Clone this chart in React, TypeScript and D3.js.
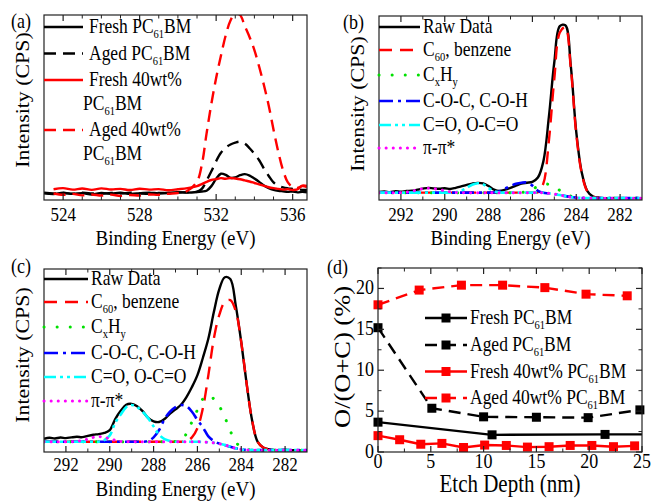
import React from "react";
import * as d3 from "d3";

const FONT = "'Liberation Serif', 'Times New Roman', 'DejaVu Serif', serif";
const SY = 1.15; // text looks a little taller than wide in the reference

// ---------- (a) O 1s ----------
const beA = [523, 523.5, 524, 524.5, 525, 525.5, 526, 526.5, 527, 527.5, 528, 528.5, 529, 529.5, 530, 530.5,
  531, 531.25, 531.5, 531.75, 532, 532.25, 532.5, 532.75, 533, 533.25, 533.5, 533.75, 534, 534.25, 534.5, 534.75,
  535, 535.25, 535.5, 535.75, 536, 536.25, 536.5, 536.75];
const freshPC_O = [3.6, 3.2, 3.9, 3.3, 3.7, 3.0, 3.8, 3.4, 3.9, 3.3, 3.6, 4.0, 3.5, 3.9, 4.2, 4.0,
  4.3, 4.6, 5.0, 7.5, 11.5, 14.2, 13.6, 12.0, 12.2, 13.4, 14.0, 13.2, 11.6, 9.8, 7.8, 6.4,
  5.5, 5.0, 4.7, 4.4, 4.6, 4.1, 4.4, 4.2];
const agedPC_O = [3.9, 3.5, 3.8, 3.4, 3.9, 3.6, 3.3, 3.8, 3.5, 3.9, 3.6, 3.4, 3.8, 3.7, 4.0, 4.2,
  4.5, 6.0, 10.5, 15.5, 21, 25.5, 28.3, 30, 31, 31.5, 30.5, 28, 25, 21.5, 17, 13,
  9.5, 7.8, 6.8, 6.3, 6.0, 5.7, 5.5, 5.4];
const fresh40_O = [null, 5.8, 6.4, 5.6, 6.2, 5.5, 6.3, 5.7, 6.0, 5.4, 6.1, 5.6, 5.9, 5.3, 5.8, 6.4,
  7.5, 8.6, 9.8, 10.8, 11.3, 11.8, 11.5, 11.9, 11.6, 11.2, 10.6, 10.0, 9.2, 8.4, 7.6, 6.9,
  6.4, 6.0, 5.6, 5.9, 5.4, 5.7, 7.8, 7.6];
const aged40_O = [null, 3.5, 2.8, 3.3, 2.5, 3.0, 2.4, 2.9, 2.2, 2.7, 2.4, 3.0, 2.8, 3.4, 3.8, 5.0,
  10, 19, 36, 52, 66, 78, 89, 97, 101, 100, 94, 88, 81, 72, 62, 51,
  38, 26, 16, 9.5, 7, 6.5, 7.5, 7];

// ---------- (b), (c) C 1s ----------
const beC = [293, 292.75, 292.5, 292.25, 292, 291.75, 291.5, 291.25, 291, 290.75, 290.5, 290.25, 290,
  289.75, 289.5, 289.25, 289, 288.75, 288.5, 288.25, 288, 287.75, 287.5, 287.25, 287, 286.75, 286.5,
  286.25, 286, 285.75, 285.5, 285.25, 285, 284.75, 284.5, 284.25, 284, 283.75, 283.5, 283.25, 283,
  282.75, 282.5, 282.25, 282, 281.75, 281.5, 281.25, 281];

const rawB = [4.3, 4.6, 4.2, 4.8, 4.5, 4.9, 5.0, 5.6, 6.2, 6.6, 6.3, 6.1, 6.4, 6.0, 6.6, 7.4, 8.2, 8.9, 9.3, 9.0,
  7.6, 5.6, 4.9, 5.6, 6.6, 7.8, 8.9, 9.4, 9.9, 12.2, 21, 45, 75, 94.5, 95, 73, 37, 15, 5, 2,
  1.2, 1.0, 0.9, 1.1, 0.8, 1.0, 0.9, 1.1, 0.9];
const c60B = [4, 4, 4, 4, 4, 4, 4, 4, 4, 4, 4, 4, 4, 4, 4, 4, 4, 4, 4, 4,
  4, 4, 4, 4, 4, 4, 4, 4, 4, 4.2, 9, 32, 66, 91, 94, 72, 36, 14.5, 4.8, 1.9,
  1.2, 1, 1, 1, 1, 1, 1, 1, 1];
const cxhyB = [4, 4, 4, 4, 4, 4, 4, 4, 4, 4, 4, 4, 4, 4, 4, 4, 4, 4, 4, 4,
  4, 4, 4, 4, 4, 4, 4.1, 4.6, 5.8, 7.5, 8.6, 8.5, 7.2, 5.2, 3.4, 2.1, 1.4, 1.1, 1, 1,
  1, 1, 1, 1, 1, 1, 1, 1, 1];
const cocB = [4, 4, 4, 4, 4, 4, 4, 4, 4, 4, 4, 4, 4, 4, 4, 4, 4, 4, 4, 4,
  4, 4.1, 4.8, 6.2, 7.6, 8.8, 9.4, 9.5, 7.8, 5.0, 3.9, 3.6, 3.2, 2.7, 2.1, 1.6, 1.3, 1.1, 1, 1,
  1, 1, 1, 1, 1, 1, 1, 1, 1];
const coB = [4, 4, 4, 4, 4, 4, 4, 4, 4, 4, 4, 4, 4, 4, 4.2, 5.0, 6.6, 8.3, 9.1, 8.6,
  6.5, 4.8, 4.1, 4, 4, 4, 4, 4, 4, 4, 3.9, 3.6, 3.2, 2.7, 2.1, 1.6, 1.3, 1.1, 1, 1,
  1, 1, 1, 1, 1, 1, 1, 1, 1];
const pipiB = [4, 4, 4, 4, 4, 4.3, 4.8, 5.5, 6.1, 6.4, 6.2, 5.6, 5.0, 4.4, 4.1, 4, 4, 4, 4, 4,
  4, 4, 4, 4, 4, 4, 4, 4, 4, 4, 3.9, 3.6, 3.2, 2.7, 2.1, 1.6, 1.3, 1.1, 1, 1,
  1, 1, 1, 1, 1, 1, 1, 1, 1];

const rawC = [7.2, 7.8, 7.4, 7.9, 7.6, 8.0, 8.3, 8.1, 8.8, 9.4, 9.8, 10.4, 12.0, 18.0, 22.5, 25.8, 26.3, 25.0, 22.3, 18.7,
  16.8, 16.4, 18.0, 21.0, 23.3, 25.8, 30.0, 35.5, 42.0, 51.5, 62.0, 76.5, 89.0, 95.5, 94.5, 80.0, 60.0, 37.0, 17.0, 5.5,
  2.5, 1.5, 1.1, 1.0, 1.2, 0.9, 1.0, 0.8, 1.0];
const c60C = [5.6, 5.6, 5.6, 5.6, 5.6, 5.6, 5.6, 5.6, 5.6, 5.6, 5.6, 5.6, 5.6, 5.6, 5.6, 5.6, 5.6, 5.6, 5.6, 5.6,
  5.6, 5.6, 5.6, 5.6, 5.6, 5.6, 5.8, 8, 13, 24, 42, 62, 75, 82, 83, 77, 60, 37, 17, 5.5,
  2.5, 1.5, 1.1, 1, 1, 1, 1, 1, 1];
const cxhyC = [5.6, 5.6, 5.6, 5.6, 5.6, 5.6, 5.6, 5.6, 5.6, 5.6, 5.6, 5.6, 5.6, 5.6, 5.6, 5.6, 5.6, 5.6, 5.6, 5.6,
  5.6, 5.6, 5.6, 5.6, 5.8, 6.5, 10, 16.5, 23, 29, 31, 29, 25, 19, 11.5, 5.5, 2.5, 1.5, 1.1, 1,
  1, 1, 1, 1, 1, 1, 1, 1, 1];
const cocC = [5.6, 5.6, 5.6, 5.6, 5.6, 5.6, 5.6, 5.6, 5.6, 5.6, 5.6, 5.6, 5.6, 5.6, 5.6, 5.6, 5.6, 5.6, 5.6, 6.0,
  8, 12, 18, 22, 24.5, 25.7, 25, 22, 17.5, 13.5, 8.5, 6.0, 4.6, 3.8, 2.9, 2.0, 1.4, 1.1, 1, 1,
  1, 1, 1, 1, 1, 1, 1, 1, 1];
const coC = [5.6, 5.6, 5.6, 5.6, 5.6, 5.6, 5.6, 5.6, 5.6, 5.6, 5.6, 6.5, 9, 16, 20.5, 24.5, 25.7, 24.5, 22, 18.5,
  14, 9.5, 7, 6, 5.6, 5.6, 5.6, 5.6, 5.6, 5.5, 5.3, 5.0, 4.5, 3.8, 2.9, 2.0, 1.4, 1.1, 1, 1,
  1, 1, 1, 1, 1, 1, 1, 1, 1];
const pipiC = [5.6, 5.6, 5.6, 5.6, 5.6, 5.6, 5.8, 6.3, 7.0, 8.0, 8.4, 8.0, 7.2, 6.4, 5.8, 5.6, 5.6, 5.6, 5.6, 5.6,
  5.6, 5.6, 5.6, 5.6, 5.6, 5.6, 5.6, 5.6, 5.6, 5.5, 5.3, 5.0, 4.5, 3.8, 2.9, 2.0, 1.4, 1.1, 1, 1,
  1, 1, 1, 1, 1, 1, 1, 1, 1];

// ---------- (d) O/(O+C) vs etch depth ----------
const depthFreshPC = [0, 10.8, 21.5, 26];
const ratioFreshPC = [3.65, 2.1, 2.15, 2.15];
const depthAgedPC = [0, 5.1, 10, 15, 19.9, 24.8];
const ratioAgedPC = [15.2, 5.35, 4.3, 4.25, 4.2, 5.15];
const depthFresh40 = [0, 2.05, 4.05, 6.05, 8.1, 10.1, 12.15, 14.15, 16.2, 18.2, 20.25, 22.3, 24.3];
const ratioFresh40 = [2.0, 1.5, 0.95, 1.05, 0.55, 0.85, 0.8, 0.6, 0.65, 0.8, 0.8, 0.65, 0.75];
const depthAged40 = [0, 3.9, 7.9, 11.8, 15.8, 19.7, 23.6];
const ratioAged40 = [18.0, 19.8, 20.4, 20.4, 20.1, 19.3, 19.1];

const RED = "#ff0000";
const DASH = "12 7";

// line styles used in (b) and (c)
const sRaw = { color: "#000", w: 2.4 };
const sC60 = { color: RED, w: 2.4, dash: "13 8" };
const sCxHy = { color: "#00e000", w: 3, dash: "0.1 13", cap: "round" };
const sCOC = { color: "#0000ff", w: 2.6, dash: "14 5 3 5" };
const sCO = { color: "#00ffff", w: 2.6, dash: "12 4 3 4 3 4" };
const sPiPi = { color: "#ff00ff", w: 3, dash: "0.1 7", cap: "round" };

function rich(label, size) {
  const parts = label.split(/(_\{[^}]*\})/).filter((p) => p !== "");
  const shift = size * 0.26;
  let inSub = false;
  return parts.map((p, i) => {
    if (p.startsWith("_{")) {
      const el = <tspan key={i} fontSize={size * 0.6} dy={inSub ? 0 : shift}>{p.slice(2, -1)}</tspan>;
      inSub = true;
      return el;
    }
    const el = <tspan key={i} dy={inSub ? -shift : 0}>{p}</tspan>;
    inSub = false;
    return el;
  });
}

function Txt({ x, y, size, anchor = "start", rotate = false, label }) {
  return (
    <g transform={`translate(${x},${y}) scale(1,${SY})`}>
      <text fontSize={size} textAnchor={anchor} style={{ fontFamily: FONT }} fill="#000"
        transform={rotate ? "rotate(-90)" : undefined}>
        {rich(label, size)}
      </text>
    </g>
  );
}

function Panel(p) {
  const { id, L, R, T, B, xDom, yDom, curve } = p;
  const x = d3.scaleLinear().domain(xDom).range([L, R]);
  const y = d3.scaleLinear().domain(yDom).range([B, T]);
  const line = d3.line()
    .defined((d) => d[1] != null)
    .x((d) => x(d[0]))
    .y((d) => y(d[1]))
    .curve(curve);
  const big = 6, small = 3.5;
  return (
    <g>
      <defs>
        <clipPath id={`clip-${id}`}>
          <rect x={L} y={T} width={R - L} height={B - T} />
        </clipPath>
      </defs>
      <g clipPath={`url(#clip-${id})`}>
        {p.series.map((s, i) => (
          <path key={i}
            d={line(s.xs.map((v, j) => [v, s.ys[j]]))}
            fill="none" stroke={s.color} strokeWidth={s.w}
            strokeDasharray={s.dash} strokeLinecap={s.cap || "butt"} strokeLinejoin="round" />
        ))}
      </g>
      {p.series.filter((s) => s.marker).map((s, i) => (
        <g key={`m${i}`}>
          {s.xs.map((v, j) => (v <= xDom[1] + 0.01 ? (
            <rect key={j} x={x(v) - 4.5} y={y(s.ys[j]) - 4.5} width={9} height={9} fill={s.color} />
          ) : null))}
        </g>
      ))}
      <rect x={L} y={T} width={R - L} height={B - T} fill="none" stroke="#222" strokeWidth={1.2} />
      {/* x ticks, inward on bottom and top */}
      {p.xMajor.map((v) => (
        <g key={`xM${v}`}>
          <line x1={x(v)} x2={x(v)} y1={B} y2={B - big} stroke="#222" strokeWidth={1.2} />
          <line x1={x(v)} x2={x(v)} y1={T} y2={T + big} stroke="#222" strokeWidth={1.2} />
          <Txt x={x(v)} y={p.tickY} size={p.tickSize} anchor="middle" label={String(v)} />
        </g>
      ))}
      {p.xMinor.map((v) => (
        <g key={`xm${v}`}>
          <line x1={x(v)} x2={x(v)} y1={B} y2={B - small} stroke="#222" strokeWidth={1} />
          <line x1={x(v)} x2={x(v)} y1={T} y2={T + small} stroke="#222" strokeWidth={1} />
        </g>
      ))}
      {(p.yMajor || []).map((v) => (
        <g key={`yM${v}`}>
          <line x1={L} x2={L + big} y1={y(v)} y2={y(v)} stroke="#222" strokeWidth={1.2} />
          <line x1={R} x2={R - big} y1={y(v)} y2={y(v)} stroke="#222" strokeWidth={1.2} />
          <Txt x={L - 4} y={y(v) + 6} size={p.tickSize} anchor="end" label={String(v)} />
        </g>
      ))}
      {(p.yMinor || []).map((v) => (
        <g key={`ym${v}`}>
          <line x1={L} x2={L + small} y1={y(v)} y2={y(v)} stroke="#222" strokeWidth={1} />
          <line x1={R} x2={R - small} y1={y(v)} y2={y(v)} stroke="#222" strokeWidth={1} />
        </g>
      ))}
      <Txt x={(L + R) / 2} y={p.xTitleY} size={p.titleSize} anchor="middle" label={p.xTitle} />
      <Txt x={p.yTitleX} y={p.yTitleY} size={p.yTitleSize || p.titleSize} anchor="middle" rotate label={p.yTitle} />
      <Txt x={p.tagX} y={p.tagY} size={18} label={p.tag} />
      {p.legend.map((e, i) => (
        <g key={`lg${i}`}>
          <line x1={p.leg.x0} x2={p.leg.x1} y1={e.y} y2={e.y} stroke={e.s.color} strokeWidth={e.s.w}
            strokeDasharray={e.s.dash} strokeLinecap={e.s.cap || "butt"} />
          {e.s.marker ? (
            <rect x={(p.leg.x0 + p.leg.x1) / 2 - 4.5} y={e.y - 4.5} width={9} height={9} fill={e.s.color} />
          ) : null}
          <Txt x={p.leg.tx} y={e.y + 6} size={p.leg.size} label={e.label} />
          {e.label2 ? <Txt x={p.leg.x1} y={e.y + 29.5} size={p.leg.size} label={e.label2} /> : null}
        </g>
      ))}
    </g>
  );
}

export default function App() {
  const spec = d3.curveCatmullRom.alpha(0.5);
  const sA = [
    { xs: beA, ys: freshPC_O, color: "#000", w: 2.4 },
    { xs: beA, ys: agedPC_O, color: "#000", w: 2.4, dash: DASH },
    { xs: beA, ys: fresh40_O, color: RED, w: 2.4 },
    { xs: beA, ys: aged40_O, color: RED, w: 2.4, dash: DASH },
  ];
  const sB = [
    { xs: beC, ys: rawB, ...sRaw },
    { xs: beC, ys: c60B, ...sC60 },
    { xs: beC, ys: cxhyB, ...sCxHy },
    { xs: beC, ys: cocB, ...sCOC },
    { xs: beC, ys: coB, ...sCO },
    { xs: beC, ys: pipiB, ...sPiPi },
  ];
  const sC = [
    { xs: beC, ys: rawC, ...sRaw },
    { xs: beC, ys: c60C, ...sC60 },
    { xs: beC, ys: cxhyC, ...sCxHy },
    { xs: beC, ys: cocC, ...sCOC },
    { xs: beC, ys: coC, ...sCO },
    { xs: beC, ys: pipiC, ...sPiPi },
  ];
  const sD = [
    { xs: depthFreshPC, ys: ratioFreshPC, color: "#000", w: 2.4, marker: true },
    { xs: depthAgedPC, ys: ratioAgedPC, color: "#000", w: 2.4, dash: DASH, marker: true },
    { xs: depthFresh40, ys: ratioFresh40, color: RED, w: 2.4, marker: true },
    { xs: depthAged40, ys: ratioAged40, color: RED, w: 2.4, dash: DASH, marker: true },
  ];
  const fitLabels = ["Raw Data", "C_{60}, benzene", "C_{x}H_{y}", "C-O-C, C-O-H", "C=O, O-C=O", "π-π*"];
  const fitStyles = [sRaw, sC60, sCxHy, sCOC, sCO, sPiPi];
  const rowsB = [27, 50, 75, 101, 125, 148];
  const rowsC = [279, 302, 327, 353, 377, 401];

  return (
    <svg width={651} height={501} style={{ position: "absolute", left: 0, top: 0, background: "#fff", fontFamily: FONT }}>
      <Panel id="a" L={44} R={307} T={15} B={200} xDom={[523, 536.75]} yDom={[0, 100]} curve={spec}
        xMajor={[524, 528, 532, 536]} xMinor={[525, 526, 527, 529, 530, 531, 533, 534, 535]}
        tickY={221} tickSize={17} xTitle="Binding Energy (eV)" xTitleY={245} titleSize={19}
        yTitle="Intensity (CPS)" yTitleX={29} yTitleY={100} tag="(a)" tagX={11} tagY={28}
        series={sA}
        leg={{ x0: 44, x1: 83, tx: 89, size: 17.5 }}
        legend={[
          { y: 27, label: "Fresh PC_{61}BM", s: sA[0] },
          { y: 53.5, label: "Aged PC_{61}BM", s: sA[1] },
          { y: 80, label: "Fresh 40wt%", label2: "PC_{61}BM", s: sA[2] },
          { y: 130, label: "Aged 40wt%", label2: "PC_{61}BM", s: sA[3] },
        ]} />
      <Panel id="b" L={379} R={642} T={16} B={200} xDom={[293, 281]} yDom={[0, 100]} curve={spec}
        xMajor={[292, 290, 288, 286, 284, 282]} xMinor={[291, 289, 287, 285, 283]}
        tickY={221} tickSize={17} xTitle="Binding Energy (eV)" xTitleY={245} titleSize={19}
        yTitle="Intensity (CPS)" yTitleX={364} yTitleY={104} tag="(b)" tagX={343} tagY={29}
        series={sB}
        leg={{ x0: 379, x1: 420, tx: 423, size: 17.5 }}
        legend={fitLabels.map((l, i) => ({ y: rowsB[i], label: l, s: fitStyles[i] }))} />
      <Panel id="c" L={44} R={307} T={269} B={452} xDom={[293, 281]} yDom={[0, 100]} curve={spec}
        xMajor={[292, 290, 288, 286, 284, 282]} xMinor={[291, 289, 287, 285, 283]}
        tickY={471} tickSize={17} xTitle="Binding Energy (eV)" xTitleY={496} titleSize={19}
        yTitle="Intensity (CPS)" yTitleX={29} yTitleY={355} tag="(c)" tagX={11} tagY={273}
        series={sC}
        leg={{ x0: 44, x1: 88, tx: 91, size: 17.5 }}
        legend={fitLabels.map((l, i) => ({ y: rowsC[i], label: l, s: fitStyles[i] }))} />
      <Panel id="d" L={378} R={642} T={268} B={452} xDom={[0, 25]} yDom={[0, 22.5]} curve={d3.curveLinear}
        xMajor={[0, 5, 10, 15, 20, 25]} xMinor={[2.5, 7.5, 12.5, 17.5, 22.5]}
        yMajor={[0, 5, 10, 15, 20]} yMinor={[2.5, 7.5, 12.5, 17.5, 22.5]}
        tickY={468} tickSize={18} xTitle="Etch Depth (nm)" xTitleY={492} titleSize={21}
        yTitle="O/(O+C) (%)" yTitleX={350} yTitleY={357} yTitleSize={23} tag="(d)" tagX={327} tagY={274}
        series={sD}
        leg={{ x0: 425, x1: 467, tx: 470, size: 17.5 }}
        legend={[
          { y: 318, label: "Fresh PC_{61}BM", s: sD[0] },
          { y: 345, label: "Aged PC_{61}BM", s: sD[1] },
          { y: 371.5, label: "Fresh 40wt% PC_{61}BM", s: sD[2] },
          { y: 398, label: "Aged 40wt% PC_{61}BM", s: sD[3] },
        ]} />
    </svg>
  );
}
